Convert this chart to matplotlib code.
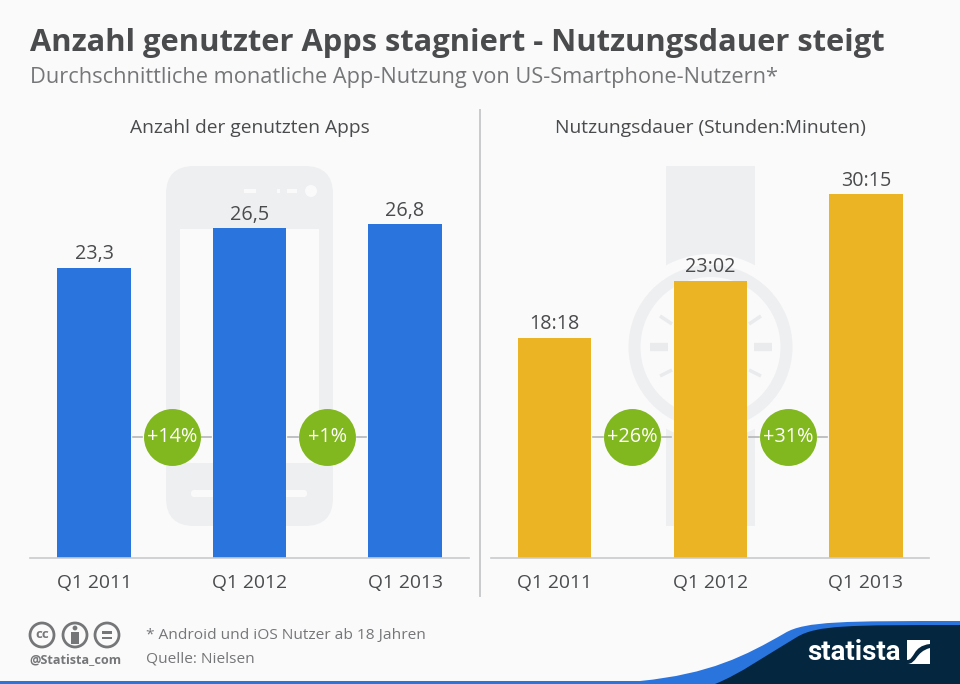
import numpy as np
import matplotlib
import matplotlib.pyplot as plt

from matplotlib.patches import Circle, FancyBboxPatch, PathPatch, Rectangle, Wedge
from matplotlib.path import Path

matplotlib.use("Agg")

plt.rcParams["font.family"] = ["Open Sans", "DejaVu Sans"]

quarters = ["Q1 2011", "Q1 2012", "Q1 2013"]

apps = [23.3, 26.5, 26.8]
apps_labels = ["23,3", "26,5", "26,8"]
apps_changes = ["+14%", "+1%"]

hours = [18.30, 23.03, 30.25]
hours_labels = ["18:18", "23:02", "30:15"]
hours_changes = ["+26%", "+31%"]

BG = "#fafafb"
TEXT = "#4a4b4d"
GREY = "#757678"
SHAPE = "#eeeff0"
LINE = "#c9cacb"
BLUE = "#2a75dd"
YELLOW = "#ebb424"
GREEN = "#82b81f"
NAVY = "#04263f"

W, H = 960, 684
fig = plt.figure(figsize=(W / 100, H / 100), dpi=100, facecolor=BG)

# pixel canvas for everything that is not data
bg = fig.add_axes([0, 0, 1, 1], zorder=0)
bg.set_xlim(0, W)
bg.set_ylim(H, 0)
bg.axis("off")

bg.text(30, 43, "Anzahl genutzter Apps stagniert - Nutzungsdauer steigt", fontsize=22.2,
        fontweight="bold", color=TEXT, va="center", ha="left")
bg.text(30, 78, "Durchschnittliche monatliche App-Nutzung von US-Smartphone-Nutzern*", fontsize=15.7,
        color=GREY, va="center", ha="left")
bg.text(249.5, 128, "Anzahl der genutzten Apps", fontsize=13.8, color=TEXT, va="center", ha="center")
bg.text(710.5, 128, "Nutzungsdauer (Stunden:Minuten)", fontsize=13.9, color=TEXT, va="center", ha="center")

bg.plot([480, 480], [110, 596], color=LINE, lw=1.4)

# phone behind the left bars
bg.add_patch(FancyBboxPatch((166, 166), 167, 360, boxstyle="round,pad=0,rounding_size=28", fc=SHAPE, ec="none"))
bg.add_patch(Rectangle((180, 229), 139, 234, fc=BG, ec="none"))
bg.add_patch(FancyBboxPatch((191, 490), 116, 7, boxstyle="round,pad=0,rounding_size=3", fc=BG, ec="none"))
bg.add_patch(Circle((311, 191), 6, fc=BG, ec="none"))
bg.add_patch(Rectangle((244, 189), 12, 4, fc=BG, ec="none"))
bg.add_patch(Rectangle((277, 189), 3, 4, fc=BG, ec="none"))
bg.add_patch(Rectangle((287, 189), 10, 4, fc=BG, ec="none"))

# watch behind the right bars
bg.add_patch(Rectangle((666, 166), 89, 360, fc=SHAPE, ec="none"))
bg.add_patch(Circle((710.5, 347), 93, fc=BG, ec="none"))
bg.add_patch(Wedge((710.5, 347), 82, 0, 360, width=12, fc=SHAPE, ec="none"))
for x0, x1, y0, y1, lw in [(650, 668, 347, 347, 6), (754, 772, 347, 347, 6),
                           (660, 672, 316, 324, 2.5), (749, 761, 324, 316, 2.5),
                           (660, 672, 376, 370, 2.5), (749, 761, 370, 376, 2.5)]:
    bg.plot([x0, x1], [y0, y1], color="#eaebec", lw=lw, solid_capstyle="butt")

# footer: text and licence icons
bg.text(146, 635, "* Android und iOS Nutzer ab 18 Jahren", fontsize=11.15, color=GREY, va="center", ha="left")
bg.text(146, 659, "Quelle: Nielsen", fontsize=11.15, color=GREY, va="center", ha="left")
bg.text(75.5, 660, "@Statista_com", fontsize=9.1, fontweight="bold", color=GREY, va="center", ha="center")
for cx in [42, 75, 107]:
    bg.add_patch(Circle((cx, 635), 12, fc=BG, ec=GREY, lw=2))
bg.text(42, 634.5, "cc", fontsize=9.5, fontweight="bold", color=GREY, va="center", ha="center")
bg.add_patch(Circle((75, 628), 2.4, fc=GREY, ec="none"))
bg.add_patch(Rectangle((71, 631.5), 8, 12, fc=GREY, ec="none"))
bg.add_patch(Rectangle((102, 631), 10, 2.6, fc=GREY, ec="none"))
bg.add_patch(Rectangle((102, 636.5), 10, 2.6, fc=GREY, ec="none"))

# footer swoosh
C4, M, L, Z = Path.CURVE4, Path.MOVETO, Path.LINETO, Path.CLOSEPOLY
blue_path = Path([(0, 684), (0, 681), (640, 681), (710, 674), (745, 656), (785, 633), (805, 621),
                  (845, 621), (960, 621), (960, 684), (0, 684)],
                 [M, L, L, C4, C4, C4, C4, C4, L, L, Z])
navy_path = Path([(715, 684), (740, 674), (765, 656), (797, 637), (817, 625), (850, 625),
                  (960, 625), (960, 684), (715, 684)],
                 [M, C4, C4, C4, C4, C4, L, L, Z])
bg.add_patch(PathPatch(blue_path, fc=BLUE, ec="none"))
bg.add_patch(PathPatch(navy_path, fc=NAVY, ec="none"))

bg.text(854, 653, "statista", fontsize=20, fontweight="bold", color="white", va="center", ha="center",
        family="Roboto")
bg.add_patch(Rectangle((907, 640), 23, 24, fc="white", ec="none"))
logo_s = Path([(907, 664), (917, 664), (915, 652), (930, 648), (930, 644), (912, 646), (915, 660), (907, 660), (907, 664)],
              [M, C4, C4, C4, L, C4, C4, C4, L])
bg.add_patch(PathPatch(logo_s, fc=NAVY, ec="none"))


def bar_panel(left, right, values, labels, changes, color, px_per_unit, first_x, step):
    top, base = 150, 558
    ax = fig.add_axes([left / W, 1 - base / H, (right - left) / W, (base - top) / H], zorder=1)
    ax.patch.set_alpha(0)

    x = np.arange(len(values))
    ax.bar(x, values, width=73.5 / step, color=color, zorder=2)
    ax.set_xlim((left - first_x) / step, (right - first_x) / step)
    ax.set_ylim(0, (base - top) / px_per_unit)

    for xi, v, lab in zip(x, values, labels):
        ax.annotate(lab, (xi, v), xytext=(0, 2.5), textcoords="offset points", ha="center", va="bottom",
                    fontsize=14.2, color=TEXT)

    # change badges between the bars, joined by short grey dashes
    trans = ax.get_xaxis_transform()
    badge_y = 121 / (base - top)
    for xi, lab in zip(x[:-1] + 0.5, changes):
        for d0, d1 in [(-0.25, -0.19), (0.19, 0.25)]:
            ax.plot([xi + d0, xi + d1], [badge_y, badge_y], transform=trans, color="#b5b6b7", lw=1.2, zorder=1)
        ax.scatter([xi], [badge_y], s=1680, color=GREEN, linewidths=0, transform=trans, zorder=3)
        ax.text(xi, badge_y, lab, transform=trans, ha="center", va="center", fontsize=14.3, color="white", zorder=4)

    ax.set_xticks(x, quarters)
    ax.tick_params(axis="x", length=0, pad=11.5, labelsize=13.9, labelcolor=TEXT)
    ax.set_yticks([])
    for s in ["top", "left", "right"]:
        ax.spines[s].set_visible(False)
    ax.spines["bottom"].set_color(LINE)
    ax.spines["bottom"].set_linewidth(1.2)
    return ax


bar_panel(30, 469, apps, apps_labels, apps_changes, BLUE, 12.45, 94, 155.5)
bar_panel(491, 929, hours, hours_labels, hours_changes, YELLOW, 12.03, 554.5, 155.75)

fig.savefig("out.png", dpi=100, facecolor=BG)
